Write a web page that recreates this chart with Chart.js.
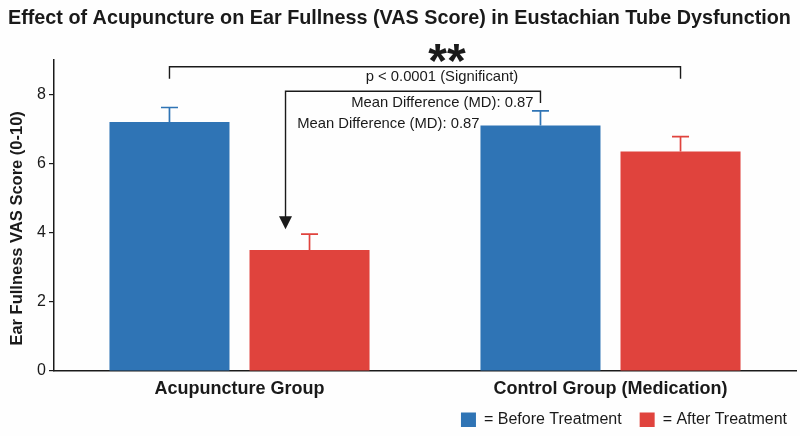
<!DOCTYPE html>
<html>
<head>
<meta charset="utf-8">
<script src="https://cdn.jsdelivr.net/npm/chart.js@4.4.0/dist/chart.umd.min.js"></script>
<style>
  html, body { margin: 0; padding: 0; background: #fefefe; }
  #wrap { width: 800px; height: 436px; position: relative; }
</style>
</head>
<body>
<div id="wrap"><canvas id="chart"></canvas></div>
<script>
// data
const groups = ['Acupuncture Group', 'Control Group (Medication)'];
const seriesNames = ['Before Treatment', 'After Treatment'];
const beforeVals = [7.2, 7.1];
const afterVals = [3.5, 6.35];
const beforeErr = [0.42, 0.42];
const afterErr = [0.46, 0.43];
const yTicks = [0, 2, 4, 6, 8];
const yTitle = 'Ear Fullness VAS Score (0-10)';

const BLUE = '#2f74b5';
const RED = '#e0433d';
const INK = '#1a1a1a';
const FONT = '"Liberation Sans", Arial, sans-serif';

// upper-only error bars, same colour as the bar
const errorBars = {
  id: 'errorBars',
  afterDatasetsDraw(chart) {
    const ctx = chart.ctx, y = chart.scales.y;
    chart.data.datasets.forEach((ds, i) => {
      const meta = chart.getDatasetMeta(i);
      meta.data.forEach((bar, j) => {
        const top = y.getPixelForValue(ds.data[j] + ds.err[j]);
        ctx.save();
        ctx.strokeStyle = ds.backgroundColor;
        ctx.lineWidth = 1.7;
        ctx.beginPath();
        ctx.moveTo(bar.x, bar.y);
        ctx.lineTo(bar.x, top);
        ctx.moveTo(bar.x - 8.5, top);
        ctx.lineTo(bar.x + 8.5, top);
        ctx.stroke();
        ctx.restore();
      });
    });
  }
};

// legend sits a little higher / further right than chart.js puts it
const legendNudge = {
  id: 'legendNudge',
  afterLayout(chart) {
    const lg = chart.legend;
    if (!lg) return;
    lg.top -= 7; lg.bottom -= 7;
    lg.left += 9; lg.right += 9;
  }
};

// y title drawn by hand, it sits a bit below the middle of the axis
const yTitlePlugin = {
  id: 'yTitle',
  afterDraw(chart) {
    const ctx = chart.ctx, a = chart.chartArea;
    ctx.save();
    ctx.translate(17, (a.top + a.bottom) / 2 + 13);
    ctx.rotate(-Math.PI / 2);
    ctx.textAlign = 'center';
    ctx.textBaseline = 'middle';
    ctx.fillStyle = INK;
    ctx.font = 'bold 16.5px ' + FONT;
    ctx.fillText(yTitle, 0, 0);
    ctx.restore();
  }
};

// significance brackets, arrow and the text notes
const notes = {
  id: 'notes',
  afterDraw(chart) {
    const ctx = chart.ctx, y = chart.scales.y;
    const b0 = chart.getDatasetMeta(0).data;
    const a0 = chart.getDatasetMeta(1).data;
    ctx.save();
    ctx.strokeStyle = INK;
    ctx.fillStyle = INK;
    ctx.lineWidth = 1.4;

    // outer bracket: acupuncture before -> control after
    const oL = b0[0].x, oR = a0[1].x;
    const oTop = y.getPixelForValue(8.8), oLeg = y.getPixelForValue(8.45);
    ctx.beginPath();
    ctx.moveTo(oL, oLeg); ctx.lineTo(oL, oTop); ctx.lineTo(oR, oTop); ctx.lineTo(oR, oLeg);
    ctx.stroke();

    ctx.textAlign = 'center';
    ctx.textBaseline = 'middle';
    ctx.font = 'bold 48px ' + FONT;
    ctx.fillText('**', 447, y.getPixelForValue(9) + 4);
    ctx.font = '14.8px ' + FONT;
    ctx.fillText('p < 0.0001 (Significant)', 442, y.getPixelForValue(8.5));

    // inner bracket with arrow down to the acupuncture after bar
    const iL = a0[0].x - a0[0].width * 0.2, iR = b0[1].x;
    const iTop = y.getPixelForValue(8.09), iLeg = y.getPixelForValue(7.75);
    const tip = y.getPixelForValue(4.1);
    ctx.beginPath();
    ctx.moveTo(iR, iLeg); ctx.lineTo(iR, iTop); ctx.lineTo(iL, iTop); ctx.lineTo(iL, tip - 10);
    ctx.stroke();
    ctx.beginPath();
    ctx.moveTo(iL, tip); ctx.lineTo(iL - 6.5, tip - 13); ctx.lineTo(iL + 6.5, tip - 13);
    ctx.closePath();
    ctx.fill();

    ctx.textAlign = 'right';
    ctx.font = '14.8px ' + FONT;
    ctx.fillText('Mean Difference (MD): 0.87', iR - 7, y.getPixelForValue(7.75));
    ctx.fillText('Mean Difference (MD): 0.87', b0[1].x - b0[1].width / 2 - 1, y.getPixelForValue(7.14));
    ctx.restore();
  }
};

new Chart(document.getElementById('chart'), {
  type: 'bar',
  data: {
    labels: groups,
    datasets: [
      { label: seriesNames[0], data: beforeVals, err: beforeErr, backgroundColor: BLUE },
      { label: seriesNames[1], data: afterVals, err: afterErr, backgroundColor: RED }
    ]
  },
  options: {
    responsive: true,
    maintainAspectRatio: false,
    animation: false,
    categoryPercentage: 0.755,
    barPercentage: 0.857,
    layout: { padding: { left: 8, right: 4, top: 0, bottom: 2 } },
    plugins: {
      tooltip: { enabled: false },
      title: {
        display: true,
        text: 'Effect of Acupuncture on Ear Fullness (VAS Score) in Eustachian Tube Dysfunction',
        align: 'start',
        color: INK,
        font: { family: FONT, size: 19.8, weight: 'bold' },
        padding: { top: 7, bottom: 29 }
      },
      legend: {
        position: 'bottom',
        align: 'end',
        maxHeight: 33,
        labels: {
          color: INK,
          font: { family: FONT, size: 16 },
          boxWidth: 15,
          boxHeight: 15,
          padding: 18,
          generateLabels(chart) {
            return chart.data.datasets.map((ds, i) => ({
              text: '= ' + ds.label,
              fillStyle: ds.backgroundColor,
              strokeStyle: ds.backgroundColor,
              lineWidth: 0,
              datasetIndex: i,
              fontColor: INK
            }));
          }
        }
      }
    },
    scales: {
      x: {
        grid: { display: false, drawTicks: false, tickLength: 0 },
        border: { display: true, color: INK, width: 1.5 },
        afterFit(scale) { scale.height = 30; },
        ticks: { color: INK, font: { family: FONT, size: 18, weight: 'bold' }, padding: 7 }
      },
      y: {
        min: 0,
        max: 9,
        afterBuildTicks(scale) { scale.ticks = yTicks.map(v => ({ value: v })); },
        afterFit(scale) { scale.width = 46; },
        grid: { drawOnChartArea: false, drawTicks: true, tickLength: 5, color: INK, lineWidth: 1.2 },
        border: { display: true, color: INK, width: 1.5 },
        ticks: { color: INK, font: { family: FONT, size: 16 }, padding: 3 }
      }
    }
  },
  plugins: [errorBars, legendNudge, yTitlePlugin, notes]
});
</script>
</body>
</html>
